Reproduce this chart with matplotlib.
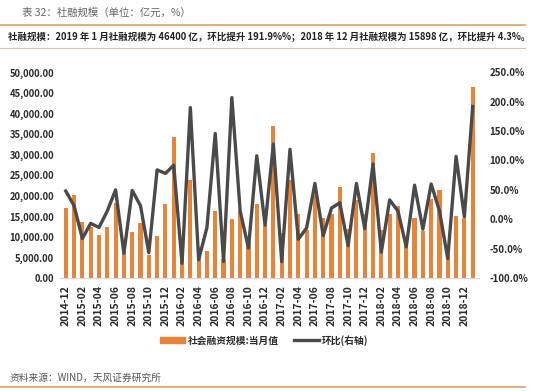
import numpy as np
import matplotlib
matplotlib.use('Agg')
import matplotlib.pyplot as plt
from matplotlib.lines import Line2D

plt.rcParams['font.family'] = ['Noto Sans CJK SC', 'DejaVu Sans']

# Monthly labels 2014-12 .. 2019-01
MONTHS = ["2014-12"] + [f"{y}-{m:02d}" for y in range(2015, 2019) for m in range(1, 13)] + ["2019-01"]

# 社会融资规模:当月值 (亿元)
TSF = [16900, 20200, 13500, 12400, 10500, 12300, 18300, 7400, 11100, 13400,
       5600, 10200, 17900, 34400, 8200, 23800, 7500, 6600, 16300, 4700,
       14400, 16400, 8700, 18100, 13000, 36900, 10900, 23800, 15500, 11600,
       20100, 14700, 15500, 22200, 12000, 18900, 15500, 30400, 11650, 15500,
       17550, 9300, 14700, 11500, 19300, 21500, 7000, 15050, 14600, 46400]

# 环比 (%), right axis
MOM = [48, 23, -33, -7, -14, 14, 50, -58, 49, 23,
       -57, 84, 78, 92, -75, 190, -69, -14, 146, -72,
       207, 14, -49, 108, -10, 128, -72, 119, -34, -15,
       61, -28, 19, 28, -45, 61, -16, 94, -56, 33,
       14, -47, 58, -17, 60, 14, -67, 107, 4.3, 191.9]

BAR_COLOR = "#e8843a"
LINE_COLOR = "#4a4a4a"
TEXT_COLOR = "#2b2b2b"

fig = plt.figure(figsize=(5.5, 3.91), dpi=100)
ax = fig.add_axes([0.109, 0.289, 0.761, 0.526])
ax2 = ax.twinx()

x = np.arange(len(MONTHS))
ax.bar(x, TSF, width=0.5, color=BAR_COLOR, zorder=2)
ax2.plot(x, MOM, color=LINE_COLOR, linewidth=2.4, zorder=3)

ax.set_xlim(-0.7, len(MONTHS) - 0.3)
ax.set_ylim(0, 50000)
ax.set_yticks(np.arange(0, 50001, 5000))
ax.set_yticklabels([f"{v:,.2f}" for v in np.arange(0, 50001, 5000)])
ax2.set_ylim(-100, 250)
ax2.set_yticks(np.arange(-100, 251, 50))
ax2.set_yticklabels([f"{v:.1f}%" for v in np.arange(-100, 251, 50)])

ax.set_xticks(x[::2])
ax.set_xticklabels(MONTHS[::2], rotation=90)

for a in (ax, ax2):
    for s in ("top", "left", "right"):
        a.spines[s].set_visible(False)
    a.spines["bottom"].set_color("#d9d9d9")
    a.tick_params(length=0, labelsize=6.8, labelcolor=TEXT_COLOR)
    for lab in a.get_yticklabels() + a.get_xticklabels():
        lab.set_fontweight("bold")
ax.tick_params(axis="y", pad=4)
ax2.tick_params(axis="y", pad=8, labelsize=7)
ax.tick_params(axis="x", pad=5, labelsize=7.5)
ax2.set_zorder(ax.get_zorder() + 1)
ax2.patch.set_visible(False)

# Legend
handles = [plt.Rectangle((0, 0), 1, 1, color=BAR_COLOR),
           Line2D([0], [0], color=LINE_COLOR, linewidth=2.4)]
leg = fig.legend(handles, ["社会融资规模:当月值", "环比(右轴)"], loc="center",
                 bbox_to_anchor=(0.48, 0.13), ncol=2, frameon=False, fontsize=7,
                 handlelength=2.6, handleheight=0.5, columnspacing=1.5, handletextpad=0.3)
for t in leg.get_texts():
    t.set_fontweight("bold")
    t.set_color(TEXT_COLOR)

# Header / footer
fig.text(0.04, 0.967, "表 32：社融规模（单位：亿元，%）", fontsize=7.5, color="#666666", va="center")
fig.add_artist(Line2D([0.0, 0.955], [0.937, 0.937], color="#e0a066", linewidth=1.2))
fig.text(0.015, 0.905, "社融规模：2019 年 1 月社融规模为 46400 亿，环比提升 191.9%%；2018 年 12 月社融规模为 15898 亿，环比提升 4.3%。",
         fontsize=6.8, color="#222222", va="center", fontweight="bold")
fig.add_artist(Line2D([0.0, 0.955], [0.877, 0.877], color="#d8c2a8", linewidth=0.8))
fig.text(0.018, 0.034, "资料来源：WIND，天风证券研究所", fontsize=7, color="#555555", va="center")
fig.add_artist(Line2D([0.0, 0.955], [0.01, 0.01], color="#e0a066", linewidth=1.2))

fig.savefig("out.png", dpi=100)
